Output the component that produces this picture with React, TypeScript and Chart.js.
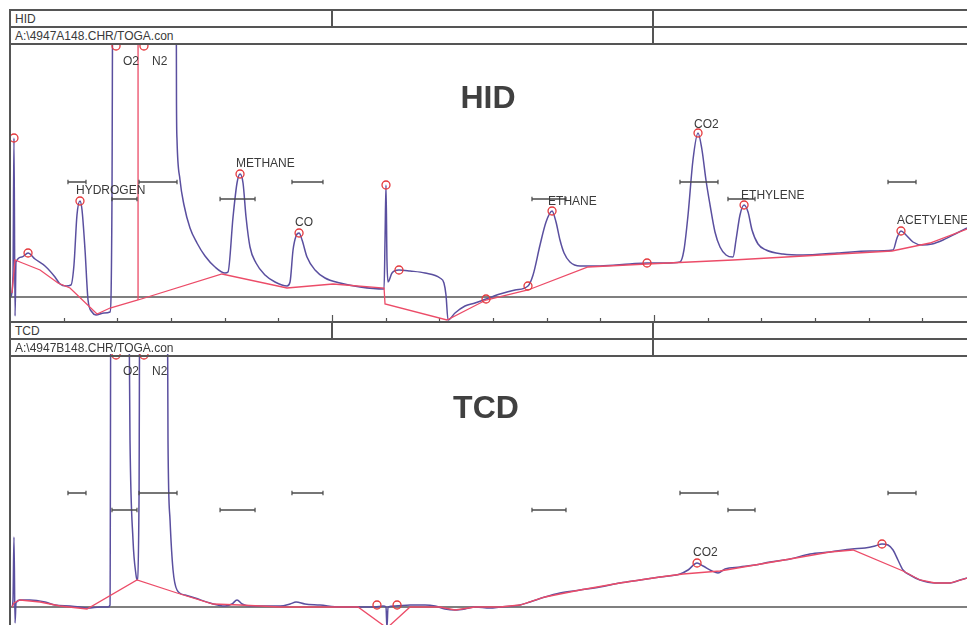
import React, { useEffect, useRef } from "react";
import { Chart, registerables } from "chart.js";
Chart.register(...registerables);

// ---------- axis (minutes) ----------
const X_MAX = 8.916;
const TICK_STEP = 0.5;
const MAJOR_TICKS = [3, 6];
const OFF_SCALE = 40; // detector saturated, above the display range

// ---------- HID ----------
const hidTime = [0.009, 0.028, 0.037, 0.047, 0.056, 0.112, 0.168, 0.233, 0.326, 0.419, 0.466, 0.522, 0.568, 0.596, 0.624, 0.652, 0.671, 0.699, 0.727, 0.764, 0.801, 0.876, 0.932, 0.95, 0.96, 1.547, 1.551, 1.556, 1.584, 1.621, 1.677, 1.742, 1.817, 1.91, 2.003, 2.031, 2.078, 2.115, 2.143, 2.171, 2.199, 2.236, 2.292, 2.376, 2.469, 2.581, 2.609, 2.637, 2.665, 2.693, 2.721, 2.767, 2.842, 2.935, 3.075, 3.261, 3.485, 3.494, 3.503, 3.512, 3.522, 3.559, 3.624, 3.727, 3.867, 4.006, 4.043, 4.062, 4.081, 4.146, 4.239, 4.332, 4.435, 4.565, 4.705, 4.826, 4.873, 4.938, 4.994, 5.05, 5.087, 5.124, 5.162, 5.217, 5.311, 5.497, 5.776, 5.935, 6.103, 6.242, 6.279, 6.317, 6.363, 6.41, 6.447, 6.484, 6.522, 6.568, 6.615, 6.671, 6.736, 6.764, 6.801, 6.839, 6.876, 6.913, 6.969, 7.044, 7.202, 7.388, 7.705, 8.012, 8.227, 8.264, 8.301, 8.348, 8.413, 8.497, 8.59, 8.693, 8.823, 8.916];
const hidSignal = [0.0, 2.2, 15.9, -1.9, 3.5, 4.0, 4.4, 3.8, 3.1, 2.0, 1.3, 1.1, 1.2, 3.2, 8.2, 9.6, 8.7, 4.7, -0.3, -1.5, -1.8, -1.6, -1.5, 9.7, OFF_SCALE, OFF_SCALE, 19.7, 15.7, 11.7, 9.2, 6.9, 5.4, 4.1, 3.0, 2.4, 2.5, 8.0, 11.4, 12.3, 11.4, 8.0, 5.0, 3.4, 2.2, 1.5, 1.1, 1.5, 4.7, 6.1, 6.4, 5.7, 4.0, 2.7, 1.9, 1.4, 1.0, 0.8, 5.7, 11.2, 3.7, 1.5, 2.4, 2.7, 2.6, 2.4, 1.9, 1.4, 0.2, -2.3, -1.6, -0.9, -0.6, -0.2, 0.3, 0.7, 1.1, 2.2, 5.2, 7.5, 8.6, 7.5, 5.7, 4.4, 3.5, 3.1, 3.1, 3.3, 3.4, 3.4, 3.5, 4.7, 8.2, 13.7, 16.4, 14.7, 11.7, 9.2, 6.5, 5.0, 4.2, 4.0, 5.7, 8.2, 9.2, 8.5, 6.7, 5.3, 4.7, 4.3, 4.2, 4.4, 4.6, 4.7, 5.9, 6.6, 6.2, 5.5, 5.2, 5.3, 5.7, 6.4, 6.9];
const hidBaseTime = [0.019, 0.047, 0.093, 0.28, 0.447, 0.559, 0.811, 0.932, 1.193, 1.975, 2.581, 3.009, 3.485, 3.494, 4.071, 4.435, 4.826, 5.385, 5.935, 6.736, 8.217, 8.571, 8.916];
const hidBaseline = [0.4, 3.7, 3.5, 2.7, 1.4, 0.9, -1.7, -1.1, -0.3, 2.3, 0.9, 1.3, 0.9, -0.7, -2.3, -0.3, 0.7, 3.0, 3.3, 3.7, 4.6, 5.4, 6.8];
const hidDropTime = 1.193;
const hidDropLevel = -0.3;
const hidPeakTime = [0.037, 0.168, 0.652, 0.988, 1.248, 2.143, 2.693, 3.503, 3.624, 4.435, 4.826, 5.05, 5.935, 6.41, 6.839, 8.301];
const hidPeakHeight = [15.9, 4.4, 9.6, 25.1, 25.1, 12.3, 6.4, 11.2, 2.7, -0.2, 1.1, 8.6, 3.4, 16.4, 9.2, 6.6];
const hidNames = ["O2", "N2", "HYDROGEN", "METHANE", "CO", "ETHANE", "CO2", "ETHYLENE", "ACETYLENE"];
const hidNameTime = [1.053, 1.323, 0.615, 2.106, 2.655, 5.013, 6.373, 6.811, 8.264];
const hidNameLevel = [23.5, 23.5, 10.6, 13.3, 7.4, 9.5, 17.2, 10.1, 7.6];

// ---------- integration windows (shared method) ----------
const windowStart = [0.54, 0.95, 1.202, 1.957, 2.627, 4.863, 6.242, 6.689, 8.18];
const windowEnd = [0.708, 1.183, 1.556, 2.283, 2.916, 5.18, 6.596, 6.941, 8.441];
const windowRow = [0, 1, 0, 1, 0, 1, 0, 1, 0];
const hidWindowLevels = [11.5, 9.8];
const tcdWindowLevels = [11.4, 9.7];

// ---------- TCD ----------
const tcdTime = [0.019, 0.028, 0.037, 0.047, 0.056, 0.093, 0.186, 0.326, 0.419, 0.559, 0.652, 0.727, 0.839, 0.913, 0.932, 0.941, 1.1, 1.118, 1.146, 1.174, 1.183, 1.202, 1.211, 1.463, 1.472, 1.491, 1.519, 1.556, 1.63, 1.724, 1.863, 2.003, 2.068, 2.115, 2.162, 2.236, 2.376, 2.516, 2.609, 2.665, 2.748, 2.888, 3.075, 3.261, 3.401, 3.475, 3.503, 3.512, 3.522, 3.587, 3.727, 3.867, 3.96, 4.053, 4.146, 4.239, 4.332, 4.472, 4.565, 4.752, 4.845, 4.984, 5.124, 5.311, 5.497, 5.683, 5.87, 6.056, 6.242, 6.317, 6.401, 6.457, 6.54, 6.596, 6.662, 6.801, 6.941, 7.081, 7.267, 7.453, 7.64, 7.845, 7.966, 8.059, 8.124, 8.18, 8.227, 8.273, 8.32, 8.385, 8.478, 8.618, 8.758, 8.851, 8.916];
const tcdSignal = [0.0, 0.7, 7.0, -1.6, 0.4, 0.7, 0.7, 0.5, 0.2, 0.1, 0.0, -0.1, 0.0, 0.0, 0.2, OFF_SCALE, OFF_SCALE, 16.7, 6.7, 3.2, 2.7, 10.7, OFF_SCALE, OFF_SCALE, 16.7, 8.7, 3.7, 1.7, 1.2, 0.9, 0.4, 0.1, 0.3, 0.7, 0.3, 0.1, 0.1, 0.1, 0.3, 0.5, 0.3, 0.2, 0.0, 0.0, 0.0, 0.1, 0.0, -2.1, 0.0, 0.1, 0.2, 0.2, 0.1, -0.2, -0.3, -0.2, 0.0, -0.1, 0.0, 0.2, 0.5, 1.0, 1.4, 1.7, 2.0, 2.4, 2.7, 3.0, 3.3, 3.7, 4.4, 4.1, 3.6, 3.4, 3.8, 4.0, 4.2, 4.5, 4.8, 5.3, 5.5, 5.8, 5.9, 6.1, 6.3, 6.2, 5.7, 4.7, 3.7, 3.2, 2.7, 2.4, 2.4, 2.7, 2.9];
const tcdBaseTime = [0.019, 0.037, 0.093, 0.28, 0.466, 0.717, 1.183, 1.556, 1.891, 2.143, 2.516, 3.242, 3.512, 3.727, 4.006, 4.146, 4.332, 4.565, 4.752, 4.984, 5.311, 5.683, 6.056, 6.27, 6.615, 6.941, 7.267, 7.64, 7.854, 8.32, 8.478, 8.618, 8.758, 8.916];
const tcdBaseline = [0.0, 0.4, 0.7, 0.5, 0.1, -0.2, 2.7, 1.4, 0.3, 0.2, 0.0, 0.0, -2.1, 0.0, 0.0, -0.3, 0.0, 0.0, 0.2, 1.0, 1.7, 2.4, 3.0, 3.3, 3.6, 4.2, 4.8, 5.5, 5.7, 3.6, 2.7, 2.4, 2.4, 2.9];
const tcdPeakTime = [0.988, 1.248, 3.419, 3.606, 6.401, 8.124];
const tcdPeakHeight = [25.2, 25.2, 0.2, 0.2, 4.4, 6.3];
const tcdNames = ["O2", "N2", "CO2"];
const tcdNameTime = [1.053, 1.323, 6.364];
const tcdNameLevel = [23.5, 23.5, 5.4];

// ---------- styles ----------
const TRACE = "#5a4f9f";
const BASE = "#ec4c68";
const MARK = "#e5393d";
const INK = "#3a3a3a";
const FRAME = "#555555";
const FONT = "'Liberation Sans', Arial, sans-serif";

const pts = (xs: number[], ys: (number | null)[]) => xs.map((x, i) => ({ x, y: ys[i] }));

function windowPoints(levels: number[]) {
  const out: { x: number; y: number | null }[] = [];
  windowStart.forEach((s, i) => {
    const lvl = levels[windowRow[i]];
    out.push({ x: s, y: lvl }, { x: windowEnd[i], y: lvl }, { x: windowEnd[i] + 0.001, y: null });
  });
  return out;
}

const framePlugin = {
  id: "frame",
  beforeDatasetsDraw(chart: any, _a: any, opts: any) {
    const { ctx, chartArea, scales } = chart;
    const x = scales.x;
    const y = scales.y;
    ctx.save();
    ctx.strokeStyle = FRAME;
    ctx.lineWidth = 1.6;
    const y0 = y.getPixelForValue(0);
    ctx.beginPath();
    ctx.moveTo(chartArea.left, y0);
    ctx.lineTo(chartArea.right, y0);
    ctx.stroke();
    if (opts && opts.ticks) {
      ctx.lineWidth = 1.2;
      for (let t = TICK_STEP; t < X_MAX; t += TICK_STEP) {
        const px = Math.round(x.getPixelForValue(t)) + 0.5;
        const len = MAJOR_TICKS.some((m) => Math.abs(m - t) < 1e-6) ? 7 : 4;
        ctx.beginPath();
        ctx.moveTo(px, chartArea.bottom);
        ctx.lineTo(px, chartArea.bottom - len);
        ctx.stroke();
      }
    }
    ctx.restore();
  },
};

const labelPlugin = {
  id: "peakLabels",
  afterDatasetsDraw(chart: any, _a: any, opts: any) {
    if (!opts || !opts.names) return;
    const { ctx, scales } = chart;
    ctx.save();
    ctx.font = `12px ${FONT}`;
    ctx.fillStyle = INK;
    ctx.textAlign = "left";
    ctx.textBaseline = "middle";
    opts.names.forEach((n: string, i: number) => {
      ctx.fillText(n, scales.x.getPixelForValue(opts.times[i]), scales.y.getPixelForValue(opts.levels[i]));
    });
    ctx.restore();
  },
};

type PanelProps = {
  top: number;
  height: number;
  yMin: number;
  yMax: number;
  time: number[];
  signal: number[];
  baseTime: number[];
  baseline: number[];
  peakTime: number[];
  peakHeight: number[];
  names: string[];
  nameTime: number[];
  nameLevel: number[];
  windowLevels: number[];
  drop?: { t: number; v: number };
  ticks: boolean;
};

function Panel(p: PanelProps) {
  const ref = useRef<HTMLCanvasElement>(null);
  useEffect(() => {
    const datasets: any[] = [
      {
        label: "peaks",
        data: pts(p.peakTime, p.peakHeight),
        showLine: false,
        pointStyle: "circle",
        pointRadius: 4,
        pointBorderWidth: 1.3,
        pointBorderColor: MARK,
        pointBackgroundColor: "rgba(0,0,0,0)",
        clip: false,
      },
      {
        label: "windows",
        data: windowPoints(p.windowLevels),
        borderColor: "#4a4a4a",
        borderWidth: 1.3,
        spanGaps: false,
        pointStyle: "line",
        rotation: 90,
        pointRadius: 2.2,
        pointBorderWidth: 1.2,
        pointBorderColor: "#4a4a4a",
      },
      {
        label: "baseline",
        data: pts(p.baseTime, p.baseline),
        borderColor: BASE,
        borderWidth: 1.3,
        pointRadius: 0,
        tension: 0,
      },
    ];
    if (p.drop) {
      datasets.push({
        label: "drop",
        data: [
          { x: p.drop.t, y: OFF_SCALE },
          { x: p.drop.t, y: p.drop.v },
        ],
        borderColor: BASE,
        borderWidth: 1.3,
        pointRadius: 0,
      });
    }
    datasets.push({
      label: "signal",
      data: pts(p.time, p.signal),
      borderColor: TRACE,
      borderWidth: 1.5,
      pointRadius: 0,
      cubicInterpolationMode: "monotone",
    });
    const chart = new Chart(ref.current as HTMLCanvasElement, {
      type: "line",
      data: { datasets },
      options: {
        responsive: false,
        animation: false,
        devicePixelRatio: 1,
        events: [],
        layout: { padding: 0, autoPadding: false },
        scales: {
          x: { type: "linear", min: 0, max: X_MAX, display: false },
          y: { type: "linear", min: p.yMin, max: p.yMax, display: false },
        },
        plugins: {
          legend: { display: false },
          tooltip: { enabled: false },
          frame: { ticks: p.ticks },
          peakLabels: { names: p.names, times: p.nameTime, levels: p.nameLevel },
        } as any,
      },
      plugins: [framePlugin, labelPlugin],
    } as any);
    return () => chart.destroy();
  }, []);
  return (
    <canvas
      ref={ref}
      width={957}
      height={p.height}
      style={{ position: "absolute", left: 10, top: p.top, width: 957, height: p.height }}
    />
  );
}

const Line = ({ l, t, w, h }: { l: number; t: number; w: number; h: number }) => (
  <div style={{ position: "absolute", left: l, top: t, width: w, height: h, background: FRAME, zIndex: 2 }} />
);

const Cell = ({ l, t, text }: { l: number; t: number; text: string }) => (
  <div
    style={{
      position: "absolute",
      left: l,
      top: t,
      height: 16,
      lineHeight: "16px",
      fontSize: 12,
      fontFamily: FONT,
      color: INK,
      whiteSpace: "nowrap",
    }}
  >
    {text}
  </div>
);

function Header({ top, name, file }: { top: number; name: string; file: string }) {
  return (
    <>
      <Line l={9} t={top - 1} w={958} h={2} />
      <Line l={9} t={top + 16} w={958} h={2} />
      <Line l={9} t={top + 33} w={958} h={2} />
      <Line l={331} t={top} w={2} h={17} />
      <Line l={652} t={top} w={2} h={34} />
      <Cell l={15} t={top + 1} text={name} />
      <Cell l={15} t={top + 18} text={file} />
    </>
  );
}

const Title = ({ x, y, text }: { x: number; y: number; text: string }) => (
  <div
    style={{
      position: "absolute",
      left: x,
      top: y,
      transform: "translate(-50%, -50%)",
      fontFamily: FONT,
      fontWeight: 700,
      fontSize: 32,
      lineHeight: 1,
      color: "#404040",
      zIndex: 3,
    }}
  >
    {text}
  </div>
);

export default function App() {
  return (
    <div
      style={{
        position: "fixed",
        left: 0,
        top: 0,
        width: 967,
        height: 625,
        overflow: "hidden",
        background: "#ffffff",
      }}
    >
      <Panel
        top={44}
        height={278}
        yMin={-2.5}
        yMax={25.3}
        time={hidTime}
        signal={hidSignal}
        baseTime={hidBaseTime}
        baseline={hidBaseline}
        peakTime={hidPeakTime}
        peakHeight={hidPeakHeight}
        names={hidNames}
        nameTime={hidNameTime}
        nameLevel={hidNameLevel}
        windowLevels={hidWindowLevels}
        drop={{ t: hidDropTime, v: hidDropLevel }}
        ticks={true}
      />
      <Panel
        top={354}
        height={271}
        yMin={-1.8}
        yMax={25.3}
        time={tcdTime}
        signal={tcdSignal}
        baseTime={tcdBaseTime}
        baseline={tcdBaseline}
        peakTime={tcdPeakTime}
        peakHeight={tcdPeakHeight}
        names={tcdNames}
        nameTime={tcdNameTime}
        nameLevel={tcdNameLevel}
        windowLevels={tcdWindowLevels}
        ticks={false}
      />
      <Header top={10} name="HID" file={"A:\\4947A148.CHR/TOGA.con"} />
      <Header top={322} name="TCD" file={"A:\\4947B148.CHR/TOGA.con"} />
      <Line l={9} t={9} w={2} h={616} />
      <Title x={488} y={97} text="HID" />
      <Title x={486} y={407} text="TCD" />
    </div>
  );
}
